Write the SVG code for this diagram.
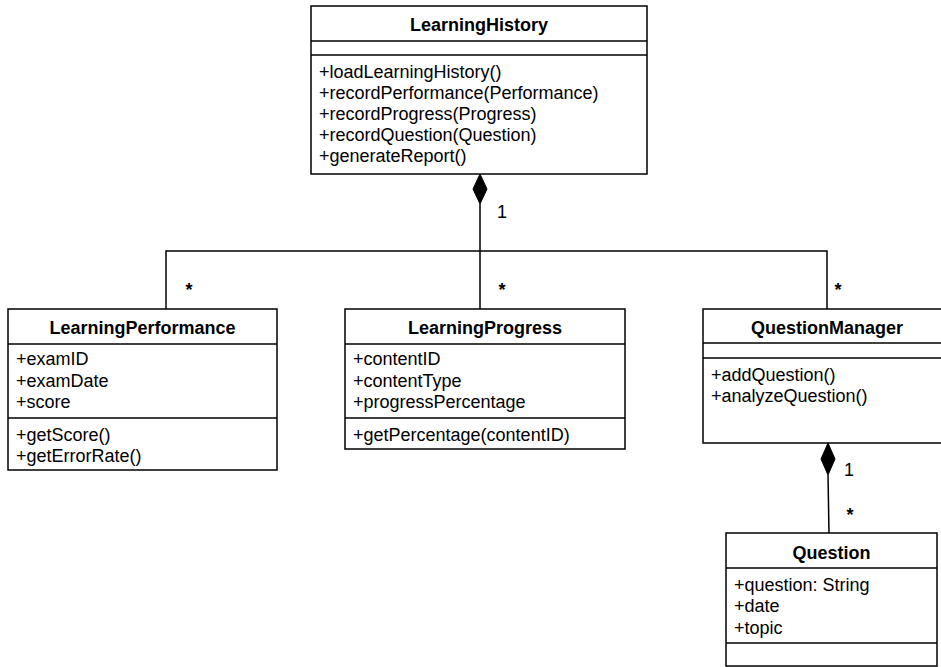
<svg xmlns="http://www.w3.org/2000/svg" width="941" height="667" viewBox="0 0 941 667">
<style>
.box{fill:#fff;stroke:#000;stroke-width:1.5}
.sep{stroke:#000;stroke-width:1.5}
.t{font-family:"Liberation Sans",Arial,sans-serif;font-size:18px;fill:#000}
.b{font-weight:bold;text-anchor:middle}
.s{font-weight:bold;text-anchor:middle}
.c{fill:none;stroke:#000;stroke-width:1.5}
.d{fill:#000;stroke:#000;stroke-width:1}
</style>
<rect width="941" height="667" fill="#fff"/>
<g id="connectors">
<polyline class="c" points="480,204 480,251"/>
<polyline class="c" points="166,309 166,251 827,251 827,309"/>
<line class="c" x1="480" y1="251" x2="480" y2="309"/>
<polygon class="d" points="480,174 487,189 480,204 473,189"/>
<line class="c" x1="828" y1="475" x2="829" y2="533"/>
<polygon class="d" points="828,443 835,459 828,475 821,459"/>
<text class="t" x="497" y="218">1</text>
<text class="t s" x="189" y="296">*</text>
<text class="t s" x="502" y="296">*</text>
<text class="t s" x="838" y="296">*</text>
<text class="t" x="844" y="476">1</text>
<text class="t s" x="850" y="521">*</text>
</g>
<g id="LearningHistory">
<rect class="box" x="311" y="6" width="336" height="168"/>
<line class="sep" x1="311" y1="41" x2="647" y2="41"/>
<line class="sep" x1="311" y1="55" x2="647" y2="55"/>
<text class="t b" x="479" y="31">LearningHistory</text>
<text class="t" x="319" y="78">+loadLearningHistory()</text>
<text class="t" x="319" y="99">+recordPerformance(Performance)</text>
<text class="t" x="319" y="120">+recordProgress(Progress)</text>
<text class="t" x="319" y="141">+recordQuestion(Question)</text>
<text class="t" x="319" y="162">+generateReport()</text>
</g>
<g id="LearningPerformance">
<rect class="box" x="8" y="309" width="269" height="161"/>
<line class="sep" x1="8" y1="344" x2="277" y2="344"/>
<line class="sep" x1="8" y1="418" x2="277" y2="418"/>
<text class="t b" x="142.5" y="334">LearningPerformance</text>
<text class="t" x="16" y="365">+examID</text>
<text class="t" x="16" y="387">+examDate</text>
<text class="t" x="16" y="408">+score</text>
<text class="t" x="16" y="441">+getScore()</text>
<text class="t" x="16" y="462">+getErrorRate()</text>
</g>
<g id="LearningProgress">
<rect class="box" x="345" y="309" width="280" height="140"/>
<line class="sep" x1="345" y1="344" x2="625" y2="344"/>
<line class="sep" x1="345" y1="418" x2="625" y2="418"/>
<text class="t b" x="485" y="334">LearningProgress</text>
<text class="t" x="353" y="365">+contentID</text>
<text class="t" x="353" y="387">+contentType</text>
<text class="t" x="353" y="408">+progressPercentage</text>
<text class="t" x="353" y="441">+getPercentage(contentID)</text>
</g>
<g id="QuestionManager">
<rect class="box" x="703" y="309" width="250" height="134"/>
<line class="sep" x1="703" y1="343" x2="953" y2="343"/>
<line class="sep" x1="703" y1="358" x2="953" y2="358"/>
<text class="t b" x="827" y="334">QuestionManager</text>
<text class="t" x="711" y="381">+addQuestion()</text>
<text class="t" x="711" y="402">+analyzeQuestion()</text>
</g>
<g id="Question">
<rect class="box" x="726" y="533" width="211" height="133"/>
<line class="sep" x1="726" y1="568" x2="937" y2="568"/>
<line class="sep" x1="726" y1="643" x2="937" y2="643"/>
<text class="t b" x="831.5" y="559">Question</text>
<text class="t" x="734" y="591">+question: String</text>
<text class="t" x="734" y="612">+date</text>
<text class="t" x="734" y="634">+topic</text>
</g>
</svg>
